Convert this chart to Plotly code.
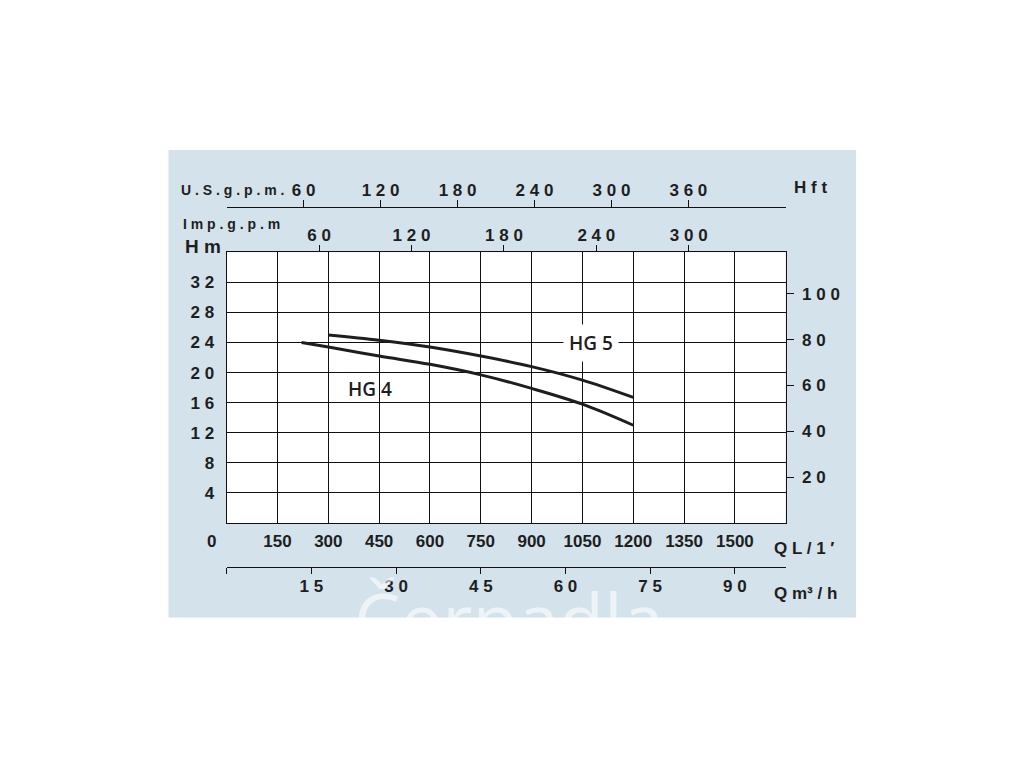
import plotly.graph_objects as go

# ---------------- data ----------------
Q_HG4 = [221, 300, 450, 600, 750, 900, 1050, 1200]          # L/min
H_HG4 = [24.0, 23.4, 22.2, 21.1, 19.7, 17.9, 15.8, 13.0]    # m
Q_HG5 = [300, 450, 600, 750, 900, 1050, 1200]
H_HG5 = [25.0, 24.3, 23.4, 22.2, 20.8, 19.0, 16.7]

Q_LMIN_TICKS = [150, 300, 450, 600, 750, 900, 1050, 1200, 1350, 1500]
H_M_TICKS = [4, 8, 12, 16, 20, 24, 28, 32]
H_FT_TICKS = [20, 40, 60, 80, 100]
USGPM_TICKS = [60, 120, 180, 240, 300, 360]
IMPGPM_TICKS = [60, 120, 180, 240, 300]
M3H_TICKS = [0, 15, 30, 45, 60, 75, 90]

Q_MAX = 1650.0      # L/min
H_MAX = 36.0        # m
USGAL = 3.78541
IMPGAL = 4.54609
FT = 0.3048

W, H = 1024, 768


def px(x):
    return x / W


def py(y):
    return 1 - y / H


def spaced(v):
    return " ".join(str(v))


FONT = "Liberation Sans"
INK = "#1e1e1e"
tickfont = dict(family=FONT, size=17, color=INK, weight="bold")

XDOM = [px(226.7), px(785.7)]
YDOM = [py(523.0), py(252.3)]

fig = go.Figure()
fig.add_trace(go.Scatter(x=Q_HG4, y=H_HG4, mode="lines", name="HG 4",
                         line=dict(color=INK, width=3, shape="spline"),
                         xaxis="x", yaxis="y"))
fig.add_trace(go.Scatter(x=Q_HG5, y=H_HG5, mode="lines", name="HG 5",
                         line=dict(color=INK, width=3, shape="spline"),
                         xaxis="x", yaxis="y"))

# same HG 5 curve expressed in the secondary units (transparent) so that the
# secondary axes are drawn
hidden = dict(mode="lines", line=dict(color="rgba(0,0,0,0)", width=0),
              hoverinfo="skip", showlegend=False)
fig.add_trace(go.Scatter(x=[q / USGAL for q in Q_HG5], y=H_HG5,
                         xaxis="x2", yaxis="y", **hidden))
fig.add_trace(go.Scatter(x=[q / IMPGAL for q in Q_HG5], y=H_HG5,
                         xaxis="x3", yaxis="y", **hidden))
fig.add_trace(go.Scatter(x=[q * 60 / 1000 for q in Q_HG5], y=H_HG5,
                         xaxis="x4", yaxis="y", **hidden))
fig.add_trace(go.Scatter(x=Q_HG5, y=[h / FT for h in H_HG5],
                         xaxis="x", yaxis="y2", **hidden))

grid = dict(showgrid=True, gridcolor="#111", gridwidth=1.3, zeroline=False,
            showline=True, mirror=True, linecolor="#111", linewidth=1.3)

fig.update_layout(
    width=W, height=H,
    margin=dict(l=0, r=0, t=0, b=0),
    paper_bgcolor="white", plot_bgcolor="rgba(0,0,0,0)",
    showlegend=False,
    xaxis=dict(domain=XDOM, range=[0, Q_MAX], tickvals=Q_LMIN_TICKS,
               ticktext=[str(v) for v in Q_LMIN_TICKS], ticks="",
               ticklabelstandoff=2, tickfont=tickfont, **grid),
    yaxis=dict(domain=YDOM, range=[0, H_MAX], tickvals=H_M_TICKS,
               ticktext=[spaced(v) for v in H_M_TICKS], ticks="",
               ticklabelstandoff=8, tickfont=tickfont, **grid),
    xaxis2=dict(overlaying="x", anchor="free", position=py(207.3), side="top",
                domain=XDOM, range=[0, Q_MAX / USGAL], tickvals=USGPM_TICKS,
                ticktext=[spaced(v) for v in USGPM_TICKS], ticks="outside",
                ticklen=7, tickwidth=1.3, tickcolor="#111", showline=True,
                linecolor="#111", linewidth=1.3, showgrid=False, zeroline=False,
                ticklabelstandoff=-3, tickfont=tickfont),
    xaxis3=dict(overlaying="x", anchor="y", side="top",
                range=[0, Q_MAX / IMPGAL], tickvals=IMPGPM_TICKS,
                ticktext=[spaced(v) for v in IMPGPM_TICKS], ticks="outside",
                ticklen=6, tickwidth=1.3, tickcolor="#111", showline=False,
                showgrid=False, zeroline=False, ticklabelstandoff=-2,
                tickfont=tickfont),
    xaxis4=dict(overlaying="x", anchor="free", position=py(567.3), side="bottom",
                domain=XDOM, range=[0, Q_MAX * 60 / 1000], tickvals=M3H_TICKS,
                ticktext=["" if v == 0 else spaced(v) for v in M3H_TICKS],
                ticks="outside", ticklen=6, tickwidth=1.3, tickcolor="#111",
                showline=True, linecolor="#111", linewidth=1.3, showgrid=False,
                zeroline=False, ticklabelstandoff=-3, tickfont=tickfont),
    yaxis2=dict(overlaying="y", anchor="x", side="right",
                range=[0, H_MAX / FT], tickvals=H_FT_TICKS,
                ticktext=[spaced(v) for v in H_FT_TICKS], ticks="outside",
                ticklen=7, tickwidth=1.3, tickcolor="#111", showline=False,
                showgrid=False, zeroline=False, ticklabelstandoff=5,
                tickfont=tickfont),
)

# background panel and white plotting area
fig.add_shape(type="rect", xref="paper", yref="paper",
              x0=px(168.5), x1=px(856), y0=py(617.5), y1=py(150),
              fillcolor="#d4e2eb", line_width=0, layer="below")
fig.add_shape(type="rect", xref="x domain", yref="y domain",
              x0=0, x1=1, y0=0, y1=1,
              fillcolor="white", line_width=0, layer="below")


def label(text, x, y, size=15, anchor="left", **kw):
    fig.add_annotation(text=text, x=px(x), y=py(y), xref="paper", yref="paper",
                       xanchor=anchor, yanchor="middle", showarrow=False,
                       font=dict(family=FONT, size=size, color=INK, weight="bold"),
                       **kw)


# watermark
fig.add_annotation(text="Čerpadla", x=px(352), y=py(618), xref="paper", yref="paper",
                   xanchor="left", yanchor="middle", showarrow=False,
                   font=dict(family="Open Sans", size=74, color="rgba(255,255,255,0.6)"))

label("U . S . g . p . m .", 179, 190, size=14)
label("I m p . g . p . m", 181, 224, size=14)
label("H m", 183, 246, size=19)
label("H f t", 792, 188, size=17)
label("0", 211, 541, size=17, anchor="center")
label("Q L / 1 ′", 772, 548, size=17)
label("Q m³ / h", 772, 593, size=17)

# curve labels
fig.add_annotation(text="HG 5", x=1074, y=24, xref="x", yref="y",
                   showarrow=False, bgcolor="white", borderpad=5,
                   font=dict(family="Open Sans", size=19, color=INK, weight=600))
fig.add_annotation(text="HG 4", x=422, y=17.8, xref="x", yref="y",
                   showarrow=False,
                   font=dict(family="Open Sans", size=19, color=INK, weight=600))

fig.write_html("out.html", config={"displayModeBar": False},
               post_script="document.body.style.margin='0';")
